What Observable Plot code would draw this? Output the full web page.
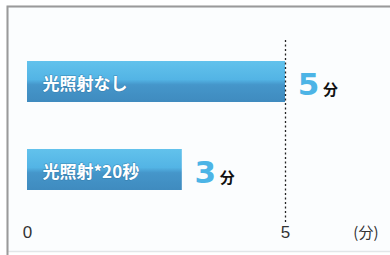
<!DOCTYPE html>
<html><head><meta charset="utf-8">
<script src="https://cdn.jsdelivr.net/npm/d3@7"></script>
<script src="https://cdn.jsdelivr.net/npm/@observablehq/plot@0.6"></script>
<style>body{margin:0;background:#fff;} svg{display:block;}</style>
</head><body><div id="chart"></div>
<script>
const categories = ["光照射なし", "光照射*20秒"];
const values = [5, 3];
const valueUnits = ["分", "分"];
const tickValues = [0, 5];
const axisUnit = "(分)";

const data = categories.map((c, i) => ({category: c, value: values[i], unit: valueUnits[i]}));
const jp = "'Noto Sans CJK JP', 'Noto Sans', sans-serif";

const chart = Plot.plot({
  width: 390, height: 255,
  margin: 0,
  style: {background: "#fff", fontFamily: jp},
  x: {domain: [0, 5], range: [27, 285], axis: null},
  y: {domain: categories, range: [15.5, 235.3], paddingInner: 0.53, paddingOuter: 0.5, axis: null},
  marks: [
    Plot.frame({fill: "#fbfdfe", stroke: "#e2e6e8", strokeWidth: 1.5, insetLeft: 7, insetTop: 6, insetRight: -5, insetBottom: 4}),
    Plot.frame({stroke: "#9a9a9a", strokeWidth: 2, insetLeft: 7, insetTop: 6, insetRight: -5, insetBottom: -10}),
    Plot.barX(data, {x: "value", y: "category", fill: "url(#barGrad)"}),
    Plot.ruleX([5], {stroke: "#222", strokeWidth: 1.3, strokeDasharray: "2,2.5", insetTop: 40, insetBottom: 33}),
    Plot.text(data, {x: 0, y: "category", text: "category", textAnchor: "start", dx: 15, dy: 3, fill: "#fff", fontSize: 17, fontWeight: "bold", stroke: "#2c6f9c", strokeWidth: 1.4, strokeOpacity: 0.45, paintOrder: "stroke"}),
    Plot.text(data, {x: "value", y: "category", text: d => String(d.value), dx: 23, dy: 3, fill: "#4cb4e6", fontSize: 31, fontWeight: "bold", fontFamily: "'DejaVu Sans', sans-serif"}),
    Plot.text(data, {x: "value", y: "category", text: "unit", dx: 45, dy: 8, fill: "#111", fontSize: 15, fontWeight: "bold"}),
    Plot.text(tickValues, {x: d => d, text: d => String(d), frameAnchor: "bottom", dy: -18, fill: "#333", fontSize: 17, fontFamily: "'Liberation Sans', sans-serif"}),
    Plot.text([axisUnit], {text: d => d, frameAnchor: "bottom-right", textAnchor: "end", dx: -12, dy: -18, fill: "#333", fontSize: 15})
  ]
});

const svg = d3.select(chart);
const defs = svg.insert("defs", ":first-child");
const g = defs.append("linearGradient").attr("id", "barGrad").attr("x1", 0).attr("y1", 0).attr("x2", 0).attr("y2", 1);
[[0, "#62c2ec"], [0.45, "#53b4e5"], [0.58, "#4596ca"], [1, "#3f8bbf"]].forEach(([o, c]) => g.append("stop").attr("offset", o).attr("stop-color", c));

document.getElementById("chart").appendChild(chart);
</script>
</body></html>
